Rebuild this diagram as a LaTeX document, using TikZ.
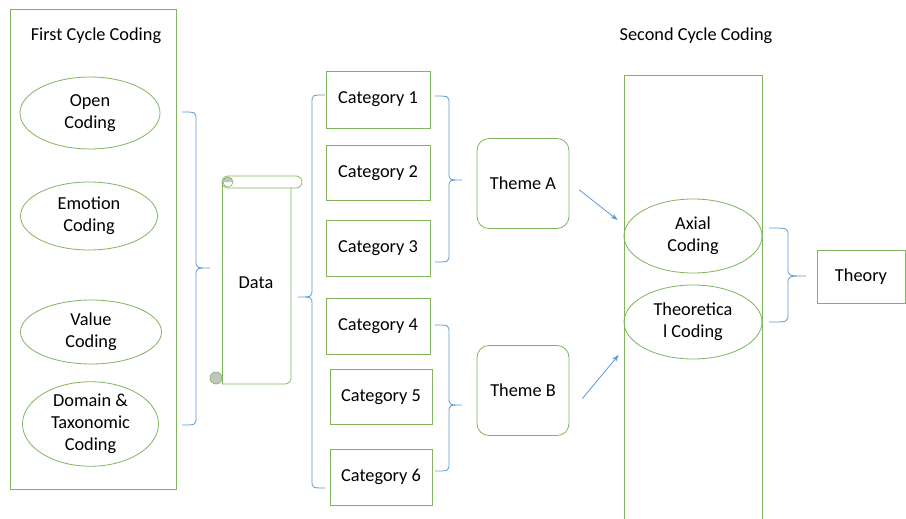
\documentclass[tikz,border=0pt]{standalone}
\usepackage{fontspec}
\setmainfont{Carlito}
\usetikzlibrary{shapes.geometric,arrows.meta,calc}
\definecolor{gline}{RGB}{130,180,95}
\definecolor{bline}{RGB}{91,155,213}
\definecolor{curl}{RGB}{195,198,190}
\newcommand\mybrace[6]{%
  \draw[brc] (#1,#4) .. controls (#2,#4) .. ({#2},{#4+8}) -- ({#2},{#5-8})
    .. controls (#2,#5) .. (#3,#5) .. controls (#2,#5) .. ({#2},{#5+8})
    -- ({#2},{#6-8}) .. controls (#2,#6) .. (#1,#6);}
\begin{document}
\begin{tikzpicture}[x=1pt,y=-1pt,font=\fontsize{18.3}{22}\selectfont,
  gl/.style={draw=gline,line width=0.8pt},
  ell/.style={ellipse,gl,inner sep=0pt,align=center},
  catbox/.style={rectangle,gl,inner sep=0pt,minimum width=104pt,minimum height=56pt},
  themebox/.style={rectangle,gl,rounded corners=12pt,inner sep=0pt,minimum width=92pt,minimum height=90pt},
  brc/.style={draw=bline,line width=0.8pt},
  arr/.style={draw=bline,line width=0.8pt,-{Stealth[length=7pt,width=5pt]}}]
\useasboundingbox (0,0) rectangle (906,519);
\fill[white] (0,0) rectangle (906,519);

% first cycle container
\node[rectangle,gl,inner sep=0pt,minimum width=166pt,minimum height=480pt] (fc) at (93,249) {};
\node (fct) at (96,36) {First Cycle Coding};
\node[ell,minimum width=140pt,minimum height=72pt] (open) at (90,113) {Open\\Coding};
\node[ell,minimum width=137pt,minimum height=68pt] (emo) at (89,216) {Emotion\\Coding};
\node[ell,minimum width=141pt,minimum height=64pt] (val) at (91,332) {Value\\Coding};
\node[ell,minimum width=136pt,minimum height=67pt] (dom) at (90.5,424) {Domain \&\\Taxonomic\\Coding};

\mybrace{182}{196}{210}{112}{268}{425}

% data scroll
\node[inner sep=0pt,minimum width=69pt,minimum height=200pt] (data) at (256,283) {Data};
\draw[gl,line width=0.7pt] (222,182) -- (222,384);
\draw[gl,line width=0.7pt,rounded corners=6pt] (291,188) -- (291,384) -- (222,384);
\draw[gl,line width=0.7pt,rounded corners=6pt] (222,176) rectangle (302,188);
\fill[curl] (228,182) ++(-5,0) arc[start angle=180,end angle=360,radius=5] -- cycle;
\draw[gl,line width=0.6pt] (228,182) circle[radius=5];
\fill[curl] (216,378) circle[radius=6];
\draw[gl,line width=0.6pt] (216,378) circle[radius=6];

\mybrace{325}{312}{298}{95}{297}{488}

% categories
\node[catbox,minimum height=57pt] (c1) at (378,99.5) {Category 1};
\node[catbox,minimum height=55pt] (c2) at (378,173) {Category 2};
\node[catbox] (c3) at (378,248) {Category 3};
\node[catbox] (c4) at (378,326) {Category 4};
\node[catbox,minimum width=102pt,minimum height=55pt] (c5) at (381,397) {Category 5};
\node[catbox,minimum width=102pt] (c6) at (381,477) {Category 6};

\mybrace{435}{449}{462}{96}{180}{262}
\mybrace{435}{449}{462}{325}{405}{471}

\node[themebox] (ta) at (523,183.5) {Theme A};
\node[themebox] (tb) at (523,390.5) {Theme B};

% second cycle container
\node (sct) at (696,36) {Second Cycle Coding};
\draw[gl] (624,519) -- (624,75) -- (762,75) -- (762,519);
\node[ell,minimum width=138pt,minimum height=74pt] (ax) at (693,236) {Axial\\Coding};
\node[ell,minimum width=138pt,minimum height=74pt] (th) at (693,322) {Theoretica\\l Coding};

\draw[arr] ($(ta.east)+(10,6.5)$) -- ($(ax.west)+(-6,-16)$);
\draw[arr] ($(tb.east)+(13,8)$) -- ($(th.west)+(-5,33)$);

\mybrace{769}{788}{806}{228}{276}{322}

\node[rectangle,gl,inner sep=0pt,minimum width=88pt,minimum height=53pt] (theory) at (861,276.5) {Theory};
\end{tikzpicture}
\end{document}
